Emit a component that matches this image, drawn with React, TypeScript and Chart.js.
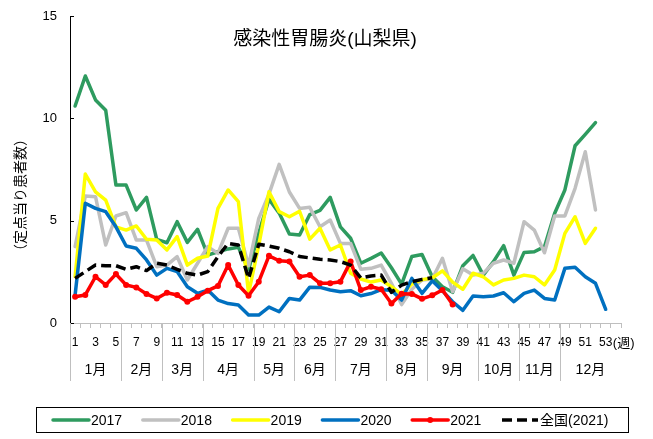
import React, { useEffect, useRef } from 'react';
import { Chart, registerables } from 'chart.js';

Chart.register(...registerables);

const weekLabels = ['1','2','3','4','5','6','7','8','9','10','11','12','13','14','15','16','17','18','19','20','21','22','23','24','25','26','27','28','29','30','31','32','33','34','35','36','37','38','39','40','41','42','43','44','45','46','47','48','49','50','51','52','53',''];

const s2017 = [10.6,12.07,10.9,10.4,6.74,6.74,5.52,6.14,4.09,3.92,4.95,3.94,4.58,3.32,3.48,3.62,3.7,2.6,4.4,6.05,5.37,4.35,4.3,5.3,5.5,6.14,4.7,4.14,2.92,3.16,3.42,2.7,1.9,3.25,3.35,2.26,1.77,1.5,2.8,3.3,2.34,3.0,3.78,2.34,3.45,3.48,3.73,5.36,6.5,8.66,9.22,9.79,null];
const s2018 = [3.73,6.2,6.17,3.81,5.23,5.39,4.05,4.05,2.75,2.83,3.24,2.1,2.92,3.73,3.4,4.63,4.63,2.8,5.11,6.3,7.75,6.4,5.6,5.65,4.7,5.03,3.89,3.89,2.63,2.67,2.83,1.94,0.9,1.65,2.1,2.15,3.16,1.53,2.65,2.34,2.43,2.92,3.08,2.92,4.95,4.54,3.43,5.23,5.23,6.58,8.37,5.52,null];
const s2019 = [2.26,7.28,6.41,6.0,4.7,4.54,4.74,4.09,4.05,3.57,4.22,2.83,3.16,3.27,5.6,6.5,5.93,1.45,3.8,6.41,5.44,5.19,5.46,4.1,4.63,3.57,3.81,2.43,2.15,2.0,2.1,1.77,1.4,1.9,2.12,2.2,2.55,2.0,1.65,2.43,2.26,1.86,2.1,2.18,2.34,2.26,1.86,2.59,4.38,5.19,3.89,4.63,null];
const s2020 = [1.37,5.85,5.6,5.44,4.7,3.76,3.65,3.08,2.34,2.67,2.51,1.77,1.45,1.61,1.12,0.95,0.88,0.39,0.39,0.78,0.55,1.2,1.12,1.75,1.74,1.61,1.53,1.58,1.33,1.44,1.63,1.6,1.12,2.18,1.45,2.06,1.57,1.04,0.62,1.32,1.28,1.32,1.48,1.04,1.45,1.61,1.2,1.12,2.67,2.72,2.26,1.94,0.67];
const s2021 = [1.28,1.37,2.26,1.86,2.39,1.86,1.74,1.42,1.2,1.48,1.37,1.04,1.28,1.58,1.81,2.83,1.86,1.33,2.02,3.28,3.04,3.0,2.26,2.34,1.94,1.94,2.02,3.0,1.61,1.77,1.65,0.95,1.43,1.42,1.18,1.35,1.61,0.9];
const sNational2021 = [2.18,2.51,2.83,2.8,2.8,2.62,2.75,2.56,2.92,2.83,2.62,2.43,2.34,2.51,3.24,3.89,3.81,2.18,3.85,3.76,3.65,3.48,3.25,3.18,3.11,3.08,3.0,2.83,2.2,2.3,2.34,1.5,1.85,2.02,2.13,2.21];

const yTickValues = [0, 5, 10, 15];
const months = ['1月','2月','3月','4月','5月','6月','7月','8月','9月','10月','11月','12月'];
const monthStartWeeks = [1,6,10,14,19,23,27,32,36,41,45,49];

const titleText = '感染性胃腸炎(山梨県)';
const yTitleText = '（定点当り患者数）';
const weekUnitText = '(週)';

const FONT = '"Liberation Sans", "Noto Sans CJK JP", sans-serif';

const seriesDefs = [
  { label: '2017', data: s2017, color: '#2E9B5F', dash: [] as number[], points: false },
  { label: '2018', data: s2018, color: '#C0C0C0', dash: [] as number[], points: false },
  { label: '2019', data: s2019, color: '#FFFF00', dash: [] as number[], points: false },
  { label: '2020', data: s2020, color: '#0070C0', dash: [] as number[], points: false },
  { label: '2021', data: s2021, color: '#FF0000', dash: [] as number[], points: true },
  { label: '全国(2021)', data: sNational2021, color: '#000000', dash: [10, 5], points: false },
];

const decorPlugin = {
  id: 'decor',
  afterDraw(chart: any) {
    const { ctx, chartArea } = chart;
    const x = chart.scales.x;
    const y = chart.scales.y;
    const half = (x.getPixelForValue(1) - x.getPixelForValue(0)) / 2;
    ctx.save();

    // inner y ticks
    ctx.strokeStyle = '#000';
    ctx.lineWidth = 1;
    for (const v of yTickValues) {
      const py = Math.round(y.getPixelForValue(v)) + 0.5;
      ctx.beginPath();
      ctx.moveTo(chartArea.left, py);
      ctx.lineTo(chartArea.left + 4, py);
      ctx.stroke();
    }

    // month separators and labels
    ctx.strokeStyle = '#BFBFBF';
    ctx.fillStyle = '#000';
    ctx.font = `14px ${FONT}`;
    ctx.textAlign = 'center';
    ctx.textBaseline = 'middle';
    monthStartWeeks.forEach((w, i) => {
      const startPx = x.getPixelForValue(w - 1) - half;
      const px = Math.round(startPx) + 0.5;
      ctx.beginPath();
      ctx.moveTo(px, chartArea.bottom);
      ctx.lineTo(px, 381);
      ctx.stroke();
      const endPx = i < monthStartWeeks.length - 1
        ? x.getPixelForValue(monthStartWeeks[i + 1] - 1) - half
        : chartArea.right;
      ctx.fillText(months[i], (startPx + endPx) / 2, 370);
    });

    // week unit
    ctx.font = `13px ${FONT}`;
    ctx.textAlign = 'left';
    ctx.fillText(weekUnitText, x.getPixelForValue(52) + half + 2, 343);

    // title
    ctx.font = `19px ${FONT}`;
    ctx.textAlign = 'center';
    ctx.fillText(titleText, 325, 40);

    // y title
    ctx.save();
    ctx.translate(21, 195);
    ctx.rotate(-Math.PI / 2);
    ctx.font = `14px ${FONT}`;
    ctx.fillText(yTitleText, 0, 0);
    ctx.restore();

    // legend
    ctx.strokeStyle = '#000';
    ctx.lineWidth = 1;
    ctx.strokeRect(36.5, 407.5, 592, 25);
    const ly = 420;
    ctx.font = `14px ${FONT}`;
    ctx.textAlign = 'left';
    ctx.textBaseline = 'middle';
    seriesDefs.forEach((s, i) => {
      const lx = 53 + i * 89.8;
      ctx.save();
      ctx.strokeStyle = s.color;
      ctx.lineWidth = 3.5;
      ctx.setLineDash(s.dash);
      ctx.lineCap = s.dash.length ? 'butt' : 'round';
      ctx.beginPath();
      ctx.moveTo(lx, ly);
      ctx.lineTo(lx + 36, ly);
      ctx.stroke();
      if (s.points) {
        ctx.fillStyle = s.color;
        ctx.beginPath();
        ctx.arc(lx + 18, ly, 3, 0, Math.PI * 2);
        ctx.fill();
      }
      ctx.restore();
      ctx.fillStyle = '#000';
      ctx.fillText(s.label, lx + 38, ly + 1);
    });

    ctx.restore();
  },
};

export default function App() {
  const canvasRef = useRef<HTMLCanvasElement | null>(null);

  useEffect(() => {
    if (!canvasRef.current) return;
    Chart.defaults.font.family = FONT;
    const n = seriesDefs.length;
    const chart = new Chart(canvasRef.current, {
      type: 'line',
      data: {
        labels: weekLabels,
        datasets: seriesDefs.map((s, i) => ({
          label: s.label,
          data: s.data,
          borderColor: s.color,
          backgroundColor: s.color,
          borderWidth: 3.5,
          borderDash: s.dash,
          borderCapStyle: s.dash.length ? 'butt' : 'round',
          borderJoinStyle: 'round',
          pointRadius: s.points ? 3 : 0,
          pointHoverRadius: s.points ? 3 : 0,
          pointBackgroundColor: s.color,
          pointBorderColor: s.color,
          pointBorderWidth: 0,
          tension: 0,
          spanGaps: false,
          fill: false,
          order: n - i,
        })),
      },
      options: {
        animation: false,
        responsive: false,
        maintainAspectRatio: false,
        layout: { padding: { left: 0, right: 32, top: 16, bottom: 0 } },
        plugins: {
          legend: { display: false },
          title: { display: false },
          tooltip: { enabled: false },
        },
        scales: {
          x: {
            type: 'category',
            offset: true,
            afterFit: (scale: any) => {
              scale.height = 116;
              scale.paddingLeft = 0;
              scale.paddingRight = 0;
            },
            grid: {
              offset: true,
              drawOnChartArea: false,
              drawTicks: true,
              tickLength: 5,
              color: '#BFBFBF',
            },
            border: { display: true, color: '#BFBFBF', width: 1 },
            ticks: {
              autoSkip: false,
              maxRotation: 0,
              minRotation: 0,
              padding: 7,
              color: '#000',
              font: { size: 12, family: FONT },
              callback: (_v: any, idx: number) => (idx % 2 === 0 && idx < 53 ? weekLabels[idx] : ''),
            },
          },
          y: {
            min: 0,
            max: 15,
            afterFit: (scale: any) => {
              scale.width = 70;
              scale.paddingTop = 0;
              scale.paddingBottom = 0;
            },
            grid: { drawOnChartArea: false, drawTicks: false },
            border: { display: true, color: '#000', width: 1 },
            ticks: {
              stepSize: 5,
              padding: 13,
              color: '#000',
              font: { size: 13, family: FONT },
            },
          },
        },
      },
      plugins: [decorPlugin],
    });
    return () => chart.destroy();
  }, []);

  return (
    <div style={{ position: 'absolute', left: 0, top: 0, width: 653, height: 439, background: '#fff' }}>
      <canvas ref={canvasRef} width={653} height={439} style={{ width: 653, height: 439, display: 'block' }} />
    </div>
  );
}
